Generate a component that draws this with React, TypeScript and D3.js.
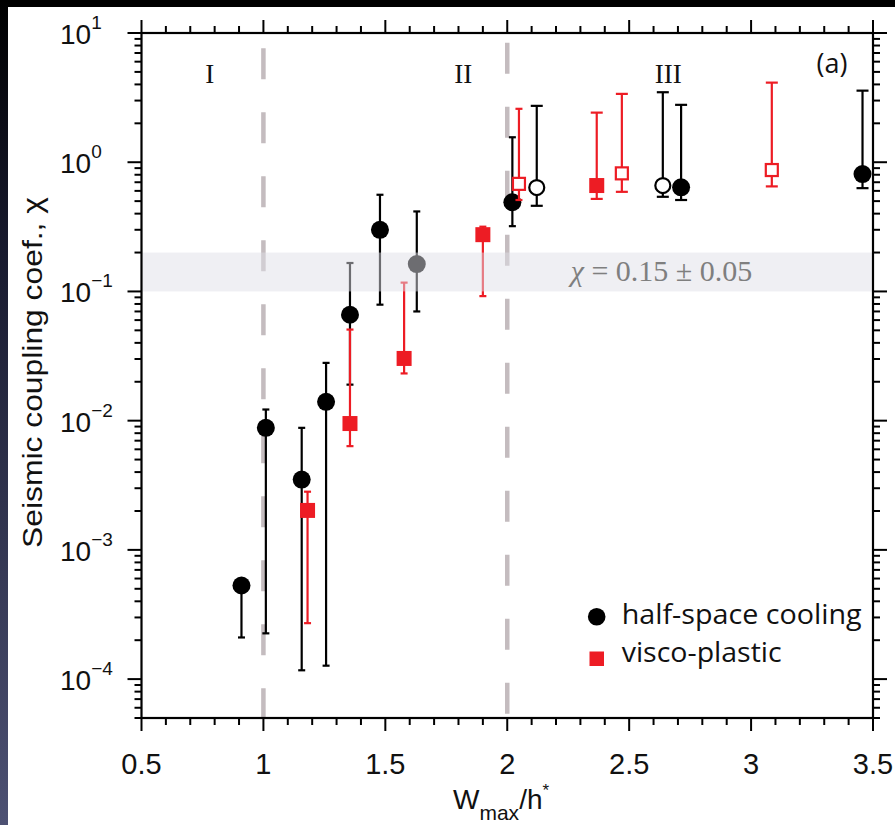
import React from "react";
import * as d3 from "d3";

// ---------- data ----------
// half-space cooling, filled markers
const hsFilledX = [0.91, 1.01, 1.157, 1.257, 1.355, 1.478, 1.629, 2.021, 2.713, 3.457];
const hsFilledY = [5.3e-4, 8.8e-3, 3.5e-3, 0.014, 0.066, 0.30, 0.163, 0.49, 0.64, 0.81];
const hsFilledLo = [2.1e-4, 2.26e-4, 1.17e-4, 1.27e-4, 0.019, 0.079, 0.070, 0.32, 0.51, 0.63];
const hsFilledHi = [5.3e-4, 0.0122, 8.8e-3, 0.028, 0.166, 0.56, 0.416, 1.56, 2.78, 3.58];
// half-space cooling, open markers
const hsOpenX = [2.121, 2.638];
const hsOpenY = [0.637, 0.66];
const hsOpenLo = [0.46, 0.54];
const hsOpenHi = [2.73, 3.48];
// visco-plastic, filled markers
const vpFilledX = [1.181, 1.355, 1.577, 1.9, 2.367];
const vpFilledY = [2.02e-3, 9.5e-3, 0.0303, 0.275, 0.66];
const vpFilledLo = [2.71e-4, 6.35e-3, 0.0232, 0.092, 0.52];
const vpFilledHi = [2.82e-3, 0.0507, 0.117, 0.317, 2.42];
// visco-plastic, open markers
const vpOpenX = [2.048, 2.47, 3.085];
const vpOpenY = [0.68, 0.82, 0.87];
const vpOpenLo = [0.51, 0.59, 0.65];
const vpOpenHi = [2.59, 3.38, 4.13];

const xTickValues = [0.5, 1, 1.5, 2, 2.5, 3, 3.5];
const xTickLabels = ["0.5", "1", "1.5", "2", "2.5", "3", "3.5"];
const yTickValues = [10, 1, 0.1, 0.01, 0.001, 0.0001];
const yTickExponents = ["1", "0", "\u22121", "\u22122", "\u22123", "\u22124"];
const regionBounds = [1, 2];
const regionLabels = ["I", "II", "III"];
const regionLabelX = [0.78, 1.82, 2.66];
const bandRange = [0.1, 0.2];
const bandSymbol = "\u03c7";
const bandText = " = 0.15 \u00b1 0.05";
const legendLabels = ["half-space cooling", "visco-plastic"];

const RED = "#ed1c24";
const W = 895;
const H = 825;

export default function App() {
  const x = d3.scaleLinear().domain([0.5, 3.5]).range([141.5, 873]);
  const y = d3.scaleLog().domain([5e-5, 10]).range([718, 33]);
  const [x0, x1] = x.range();
  const [yB, yT] = y.range();

  const minorX = d3.range(0.5, 3.5001, 0.1);
  const yTicks = y.ticks();
  const isMajorY = (v: number) => Math.abs(Math.log10(v) - Math.round(Math.log10(v))) < 1e-6;

  const errBar = (xs: number[], ys: number[], lo: number[], hi: number[], color: string, key: string) =>
    xs.map((xv, i) => {
      const cx = x(xv);
      const cap = xv > 2.1 ? 12 : 7;
      return (
        <g key={key + i} stroke={color} strokeWidth={2.2} fill="none">
          <line x1={cx} x2={cx} y1={y(lo[i])} y2={y(hi[i])} />
          <line x1={cx - cap / 2} x2={cx + cap / 2} y1={y(lo[i])} y2={y(lo[i])} />
          {hi[i] > ys[i] && <line x1={cx - cap / 2} x2={cx + cap / 2} y1={y(hi[i])} y2={y(hi[i])} />}
        </g>
      );
    });

  const tickFont = "'Liberation Sans', Arial, Helvetica, sans-serif";
  const serif = "'Liberation Serif', 'Times New Roman', serif";
  const humanist = "'Open Sans', 'Noto Sans', sans-serif";

  return (
    <svg width={W} height={H} style={{ position: "absolute", left: 0, top: 0 }}>
      <defs>
        <linearGradient id="edge" x1="0" y1="0" x2="0" y2="1">
          <stop offset="0" stopColor="#000" />
          <stop offset="0.3" stopColor="#181a2e" />
          <stop offset="1" stopColor="#4d5173" />
        </linearGradient>
      </defs>
      <rect x={0} y={0} width={W} height={H} fill="#fff" />
      <rect x={0} y={0} width={W} height={7} fill="#000" />
      <rect x={0} y={0} width={8} height={H} fill="url(#edge)" />

      {/* regime boundaries */}
      <line x1={x(regionBounds[0])} x2={x(regionBounds[0])} y1={48.3} y2={yB} stroke="#c4bcbf" strokeWidth={4.5} strokeDasharray="31 33" />
      <line x1={x(regionBounds[1])} x2={x(regionBounds[1])} y1={42.7} y2={yB} stroke="#c4bcbf" strokeWidth={4.5} strokeDasharray="31 33" />

      {/* error bars and markers */}
      {errBar(hsFilledX, hsFilledY, hsFilledLo, hsFilledHi, "#000", "hfe")}
      {errBar(hsOpenX, hsOpenY, hsOpenLo, hsOpenHi, "#000", "hoe")}
      {hsFilledX.map((xv, i) => (
        <circle key={"hf" + i} cx={x(xv)} cy={y(hsFilledY[i])} r={9} fill="#000" />
      ))}
      {hsOpenX.map((xv, i) => (
        <circle key={"ho" + i} cx={x(xv)} cy={y(hsOpenY[i])} r={7.5} fill="#fff" stroke="#000" strokeWidth={2.2} />
      ))}
      {errBar(vpFilledX, vpFilledY, vpFilledLo, vpFilledHi, RED, "vfe")}
      {errBar(vpOpenX, vpOpenY, vpOpenLo, vpOpenHi, RED, "voe")}
      {vpFilledX.map((xv, i) => (
        <rect key={"vf" + i} x={x(xv) - 7.5} y={y(vpFilledY[i]) - 7.5} width={15} height={15} fill={RED} />
      ))}
      {vpOpenX.map((xv, i) => (
        <rect key={"vo" + i} x={x(xv) - 6} y={y(vpOpenY[i]) - 6} width={12} height={12} fill="#fff" stroke={RED} strokeWidth={2.2} />
      ))}

      {/* shaded band (semi-transparent, on top) */}
      <rect x={x0 + 1} y={y(bandRange[1])} width={x1 - x0 - 2} height={y(bandRange[0]) - y(bandRange[1])} fill="rgb(222,223,230)" fillOpacity={0.49} />
      <text x={661.5} y={281} textAnchor="middle" fontFamily={serif} fontSize={30} fill="#7f7f7f">
        <tspan fontStyle="italic">{bandSymbol}</tspan>
        {bandText}
      </text>

      {/* region labels */}
      {regionLabels.map((t, i) => (
        <text key={t} x={x(regionLabelX[i])} y={83} textAnchor="middle" fontFamily={serif} fontSize={27} fill="#111">
          {t}
        </text>
      ))}
      <text x={832} y={73} textAnchor="middle" fontFamily={humanist} fontSize={27} fill="#111">(a)</text>

      {/* axes frame */}
      <rect x={x0} y={yT} width={x1 - x0} height={yB - yT} fill="none" stroke="#000" strokeWidth={2.2} />
      {minorX.map((v, i) => {
        const major = xTickValues.some((m) => Math.abs(m - v) < 1e-6);
        const len = major ? 13 : 7;
        return (
          <g key={"xt" + i} stroke="#000" strokeWidth={2}>
            <line x1={x(v)} x2={x(v)} y1={yB} y2={yB + len} />
            <line x1={x(v)} x2={x(v)} y1={yT} y2={yT - len} />
          </g>
        );
      })}
      {yTicks.map((v, i) => {
        const len = isMajorY(v) ? 14 : 7;
        return (
          <g key={"yt" + i} stroke="#000" strokeWidth={2}>
            <line x1={x0} x2={x0 - len} y1={y(v)} y2={y(v)} />
            <line x1={x1} x2={x1 + len} y1={y(v)} y2={y(v)} />
          </g>
        );
      })}

      {/* x tick labels */}
      {xTickValues.map((v, i) => (
        <text key={"xl" + i} x={x(v)} y={774} textAnchor="middle" fontFamily={tickFont} fontSize={29} fill="#111">
          {xTickLabels[i]}
        </text>
      ))}
      {/* y tick labels */}
      {yTickValues.map((v, i) => (
        <text key={"yl" + i} x={60} y={y(v) + 11} fontFamily={tickFont} fontSize={28} fill="#111">
          10
          <tspan dy={-15} fontSize={19}>{yTickExponents[i]}</tspan>
        </text>
      ))}

      {/* axis titles */}
      <text x={453} y={809} fontFamily={tickFont} fontSize={28} fill="#111">
        W<tspan fontSize={21} dy={11}>max</tspan>
        <tspan dy={-11}>/h</tspan>
        <tspan fontSize={17} dy={-13}>*</tspan>
      </text>
      <text
        transform={`translate(42,${(197 + 548) / 2}) rotate(-90)`}
        textAnchor="middle"
        fontFamily={tickFont}
        fontSize={28}
        fill="#111"
        textLength={351}
        lengthAdjust="spacingAndGlyphs"
      >
        Seismic coupling coef., {"\u03c7"}
      </text>

      {/* legend */}
      <circle cx={596.7} cy={616.7} r={8.8} fill="#000" />
      <text x={621.7} y={624} fontFamily={humanist} fontSize={27} fill="#111" textLength={240} lengthAdjust="spacingAndGlyphs">
        {legendLabels[0]}
      </text>
      <rect x={589.5} y={651.5} width={14.5} height={14.5} fill={RED} />
      <text x={621.7} y={662} fontFamily={humanist} fontSize={27} fill="#111" textLength={160} lengthAdjust="spacingAndGlyphs">
        {legendLabels[1]}
      </text>
    </svg>
  );
}
